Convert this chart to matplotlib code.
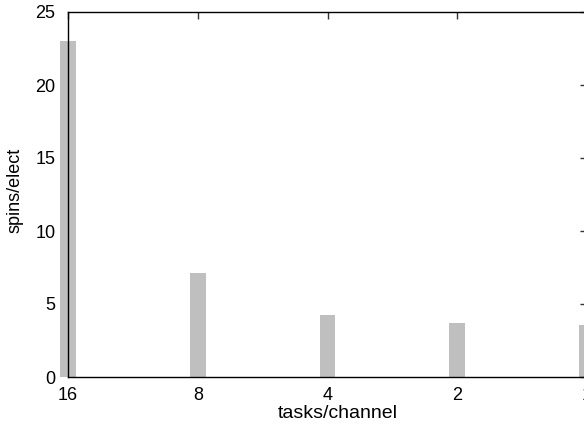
import matplotlib
matplotlib.use("Agg")
import matplotlib.pyplot as plt

categories = ["16", "8", "4", "2", "1"]
values = [23.0, 7.15, 4.25, 3.7, 3.55]
yticks = [0, 5, 10, 15, 20, 25]

plt.rcParams['font.family'] = ['Liberation Sans', 'DejaVu Sans']
plt.rcParams['font.size'] = 13

W, H = 584, 433
fig = plt.figure(figsize=(W / 100, H / 100), dpi=100)
left, right, top, bottom = 68, 587, 12, 377
ax = fig.add_axes([left / W, 1 - bottom / H, (right - left) / W, (bottom - top) / H])

x = list(range(len(categories)))
bars = ax.bar(x, values, width=0.122, color="#bfbfbf", edgecolor="none", zorder=1)
for b in bars:
    b.set_clip_on(False)

ax.set_xlim(0, len(categories) - 1)
ax.set_ylim(0, 25)
ax.set_xticks(x)
ax.set_xticklabels(categories)
ax.set_yticks(yticks)

for s in ax.spines.values():
    s.set_linewidth(1.0)
    s.set_color("black")
    s.set_zorder(3)

ax.tick_params(axis="both", direction="in", length=5, width=1.0, color="#333333",
               top=True, right=True, bottom=True, left=True)
ax.tick_params(axis="x", which="major", bottom=False, pad=7)
ax.tick_params(axis="y", which="major", left=False, pad=9)

ax.set_xlabel("tasks/channel", fontsize=14)
ax.xaxis.set_label_coords(0.52, -0.076)
ax.set_ylabel("spins/elect", fontsize=13)
ax.yaxis.set_label_coords(-0.0867, 0.512)

fig.savefig("out.png", dpi=100)
